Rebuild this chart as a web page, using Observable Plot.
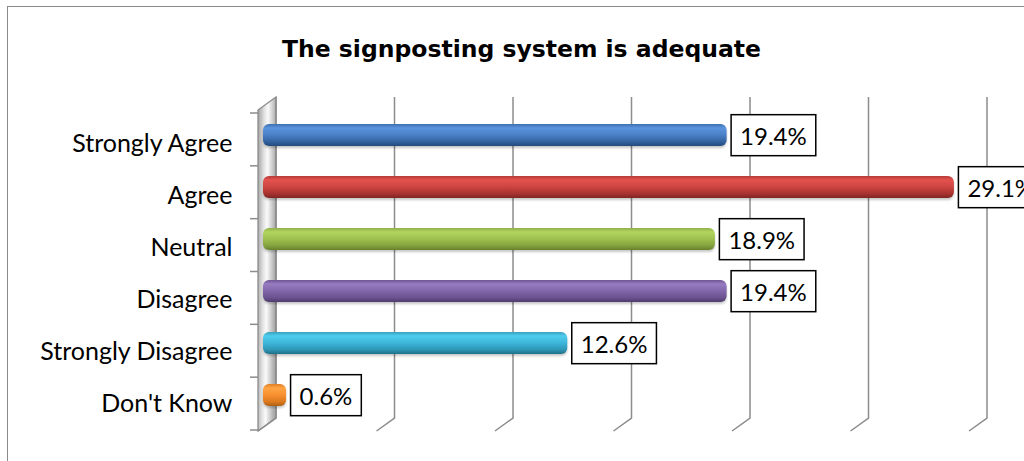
<!DOCTYPE html>
<html>
<head>
<meta charset="utf-8">
<script src="https://cdn.jsdelivr.net/npm/d3@7"></script>
<script src="https://cdn.jsdelivr.net/npm/@observablehq/plot@0.6"></script>
<style>
  html, body { margin: 0; padding: 0; background: #fff; }
  #chart { position: relative; width: 1024px; height: 461px; overflow: hidden; font-family: Lato, "Noto Sans", sans-serif; color: #000; }
  #frame { position: absolute; left: 7px; top: 6px; width: 1060px; height: 500px; border: 1.5px solid #8a8a8a; box-sizing: border-box; }
  #title { position: relative; height: 80px; box-sizing: border-box; padding-top: 38px; padding-left: 19px; text-align: center; font-family: "DejaVu Sans", Verdana, sans-serif; font-weight: 700; font-size: 23.5px; line-height: 1; }
  #plot { position: relative; }
</style>
</head>
<body>
<div id="chart">
  <div id="frame"></div>
  <div id="title">The signposting system is adequate</div>
  <div id="plot"></div>
</div>
<script>
// Survey answers and their shares (%)
const categories = ["Strongly Agree", "Agree", "Neutral", "Disagree", "Strongly Disagree", "Don't Know"];
const percentages = [19.4, 29.1, 18.9, 19.4, 12.6, 0.6];
const gridValues = [0, 5, 10, 15, 20, 25, 30];

// Cylinder shading per bar: edge, highlight, body, shade, underside
const barShades = [
  ["#3b6fb0", "#5b95dd", "#4a80c8", "#33629f", "#244a7c"],
  ["#b63a37", "#e4524f", "#cd4441", "#a8322f", "#7e2624"],
  ["#8fb04a", "#b2d55e", "#9dc04f", "#84a33e", "#66812c"],
  ["#6f5590", "#977cc2", "#8266aa", "#6b5290", "#4f3c6c"],
  ["#3aa0bf", "#4fcdee", "#3cb5da", "#2f96b5", "#1f7189"],
  ["#e07d24", "#ffa444", "#f79030", "#dc7a1e", "#b05f12"]
];

const rows = categories.map((category, i) => ({
  category,
  value: percentages[i],
  fill: `url(#bar-grad-${i})`
}));

// Back wall, gridlines with floor edges, category ticks, gradient definitions
function frame3d(index, scales, values, dims) {
  const x = scales.x;
  const top = dims.marginTop;
  const bottom = dims.height - dims.marginBottom;
  const ddx = -18, ddy = 13;              // depth offset from back plane to front
  const back0 = x(0) + 4;
  const k = 1.0114;                        // back plane spread
  const backX = (v) => back0 + (x(v) - x(0)) * k;
  const backTop = top - 16, backBottom = bottom - 12;

  const g = d3.create("svg:g");
  const defs = g.append("defs");
  barShades.forEach((s, i) => {
    const lg = defs.append("linearGradient").attr("id", `bar-grad-${i}`)
      .attr("x1", 0).attr("y1", 0).attr("x2", 0).attr("y2", 1);
    [[0, s[0]], [0.18, s[1]], [0.5, s[2]], [0.8, s[3]], [1, s[4]]].forEach(([o, c]) =>
      lg.append("stop").attr("offset", o).attr("stop-color", c));
  });
  const wg = defs.append("linearGradient").attr("id", "wall-grad")
    .attr("x1", 0).attr("y1", 0).attr("x2", 1).attr("y2", 0.15);
  [[0, "#a0a0a0"], [0.35, "#e2e2e2"], [0.55, "#fafafa"], [0.8, "#cecece"], [1, "#aaaaaa"]].forEach(([o, c]) =>
    wg.append("stop").attr("offset", o).attr("stop-color", c));

  // side wall
  g.append("path")
    .attr("d", `M${back0},${backTop}L${back0},${backBottom}L${back0 + ddx},${backBottom + ddy}L${back0 + ddx},${backTop + ddy}Z`)
    .attr("fill", "url(#wall-grad)")
    .attr("stroke", "#8c8c8c")
    .attr("stroke-width", 1.3);

  // vertical gridlines on the back plane, bending onto the floor
  gridValues.forEach((v) => {
    const bx = backX(v);
    g.append("path")
      .attr("d", `M${bx},${backTop}L${bx},${backBottom}L${bx + ddx},${backBottom + ddy}`)
      .attr("fill", "none")
      .attr("stroke", "#8c8c8c")
      .attr("stroke-width", 1.5);
  });

  // category boundary ticks on the front edge of the wall
  const n = categories.length;
  for (let i = 0; i <= n; i++) {
    const y = top + (i * (bottom - top)) / n;
    g.append("line")
      .attr("x1", back0 + ddx - 8).attr("x2", back0 + ddx)
      .attr("y1", y).attr("y2", y)
      .attr("stroke", "#8c8c8c")
      .attr("stroke-width", 1.5);
  }
  return g.node();
}

const chart = Plot.plot({
  width: 1024,
  height: 381,
  marginLeft: 272,
  marginRight: 49,
  marginTop: 33,
  marginBottom: 31,
  x: { domain: [0, 30], axis: null },
  y: { domain: categories, padding: 0, label: null },
  color: { type: "identity" },
  style: { fontFamily: "Lato, 'Noto Sans', sans-serif", background: "transparent", color: "#000", overflow: "visible" },
  marks: [
    frame3d,
    Plot.axisY({ tickSize: 0, tickPadding: 40, fontSize: 25, dy: 1.5, fill: "#000", label: null }),
    Plot.barX(rows, {
      x: "value",
      y: "category",
      fill: "fill",
      insetTop: 8,
      insetBottom: 22,
      insetLeft: -9,
      rx: 6,
      className: "bars3d"
    }),
    Plot.text(rows, {
      x: "value",
      y: "category",
      text: (d) => d.value.toFixed(1) + "%",
      textAnchor: "start",
      dx: 13,
      dy: -5.5,
      fontSize: 24,
      fill: "#000",
      className: "value-label"
    })
  ]
});

document.getElementById("plot").appendChild(chart);

// soft shadow beneath the bars
d3.select(chart).selectAll("g.bars3d").style("filter", "drop-shadow(0px 2px 1px rgba(0,0,0,0.22))");

// boxed value labels
d3.select(chart).selectAll("g.value-label text").each(function () {
  const bb = this.getBBox();
  const cy = bb.y + bb.height / 2;
  const rect = document.createElementNS("http://www.w3.org/2000/svg", "rect");
  rect.setAttribute("x", bb.x - 9);
  rect.setAttribute("y", cy - 20.5);
  rect.setAttribute("width", bb.width + 18);
  rect.setAttribute("height", 41);
  rect.setAttribute("fill", "#fff");
  rect.setAttribute("stroke", "#000");
  rect.setAttribute("stroke-width", 1.5);
  const t = this.getAttribute("transform");
  if (t) rect.setAttribute("transform", t);
  this.parentNode.insertBefore(rect, this);
});
</script>
</body>
</html>
